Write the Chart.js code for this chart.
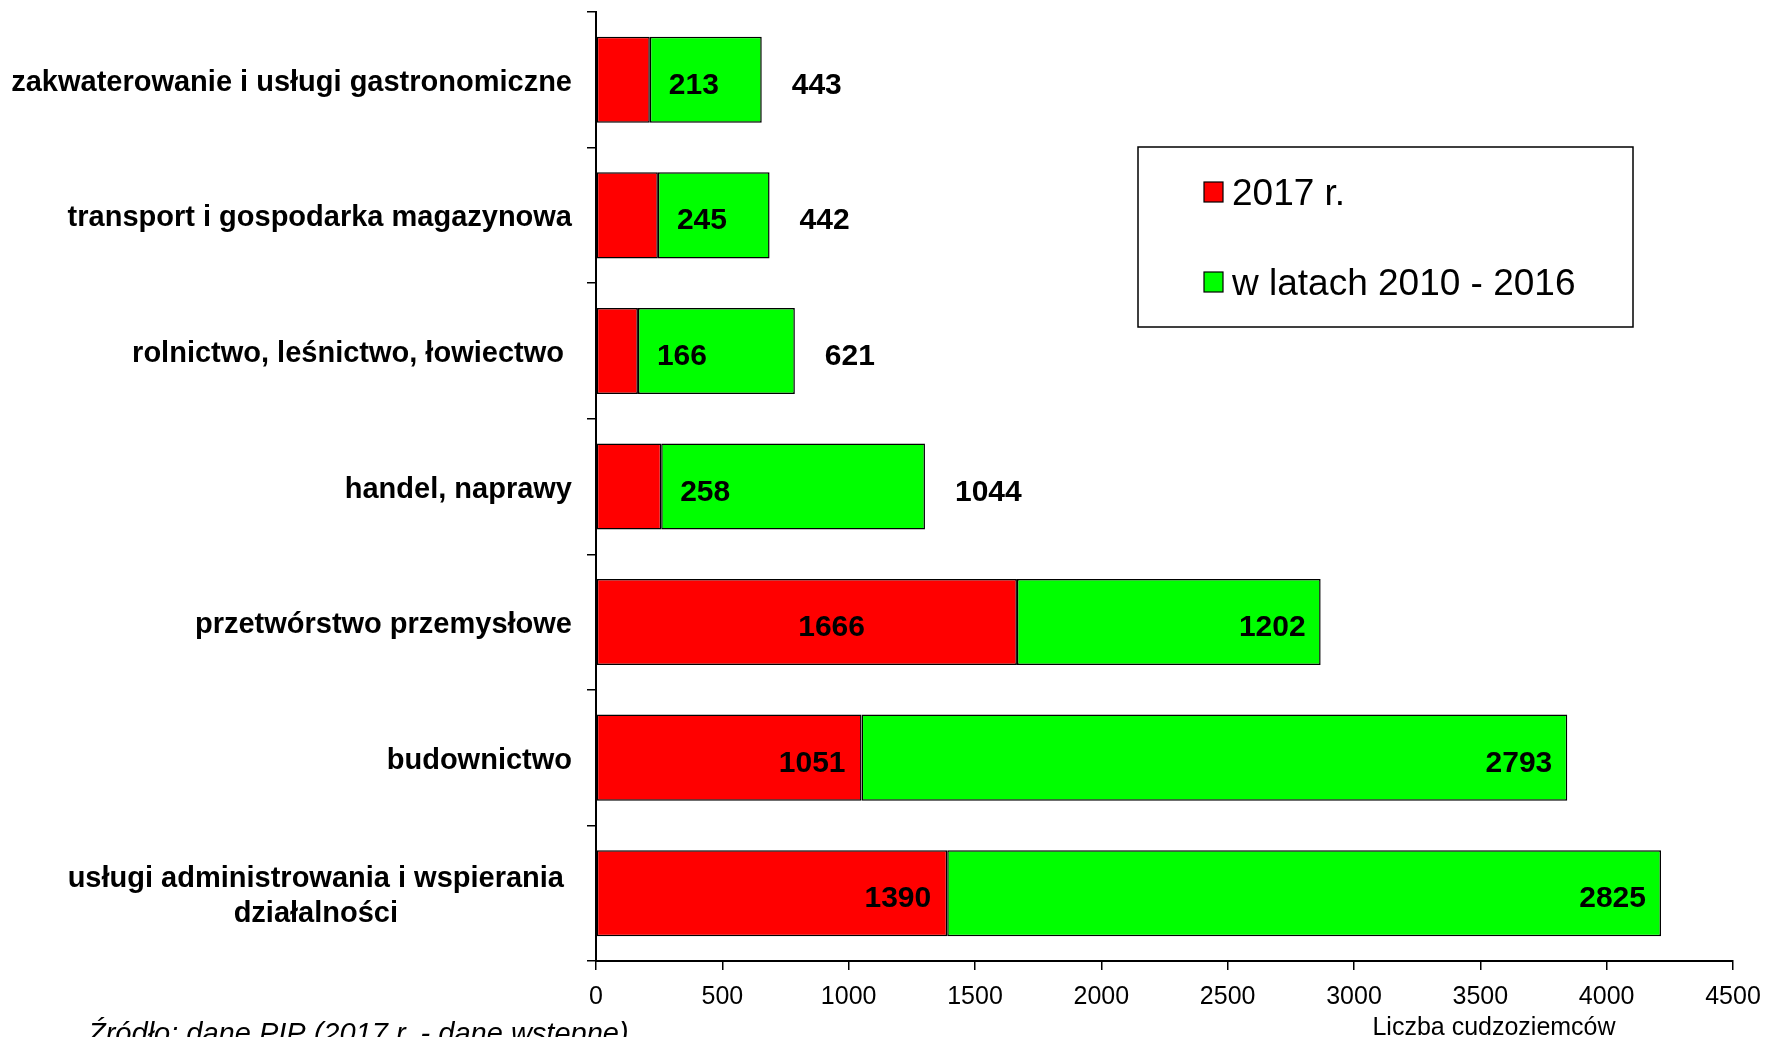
<!DOCTYPE html>
<html>
<head>
<meta charset="utf-8">
<script src="https://cdn.jsdelivr.net/npm/chart.js@4.4.0/dist/chart.umd.min.js"></script>
<style>
  body { margin: 0; background: #fff; }
  #wrap { width: 1767px; height: 1037px; position: relative; }
</style>
</head>
<body>
<div id="wrap"><canvas id="bar-chart"></canvas></div>
<script>
var categories = [
  "zakwaterowanie i usługi gastronomiczne",
  "transport i gospodarka magazynowa",
  "rolnictwo, leśnictwo, łowiectwo ",
  "handel, naprawy",
  "przetwórstwo przemysłowe",
  "budownictwo",
  ["usługi administrowania i wspierania", "działalności"]
];
var values2017 = [213, 245, 166, 258, 1666, 1051, 1390];
var values2010to2016 = [443, 442, 621, 1044, 1202, 2793, 2825];
var seriesNames = ["2017 r.", "w latach 2010 - 2016"];
var xTickValues = [0, 500, 1000, 1500, 2000, 2500, 3000, 3500, 4000, 4500];
var axisTitle = "Liczba cudzoziemców";
var sourceNote = "Źródło: dane PIP (2017 r. - dane wstępne)";

var FONT = '"Liberation Sans", Arial, sans-serif';
var redLabelNudge = { 4: -136 };   // the 1666 label sits further left in the original

// value labels on the bars
var valueLabels = {
  id: 'valueLabels',
  afterDatasetsDraw: function(chart) {
    var ctx = chart.ctx;
    var red = chart.getDatasetMeta(0).data;
    var green = chart.getDatasetMeta(1).data;
    ctx.save();
    ctx.font = 'bold 30px ' + FONT;
    ctx.fillStyle = '#000';
    ctx.textBaseline = 'alphabetic';
    for (var i = 0; i < red.length; i++) {
      var r = red[i], g = green[i];
      var y = r.y + 3 + 11;
      if (r.x - r.base < 100) {
        ctx.textAlign = 'center';
        ctx.fillText(String(values2017[i]), r.x + 44, y);
        ctx.textAlign = 'left';
        ctx.fillText(String(values2010to2016[i]), g.x + 30, y);
      } else {
        ctx.textAlign = 'right';
        ctx.fillText(String(values2017[i]), r.x - 16 + (redLabelNudge[i] || 0), y);
        ctx.fillText(String(values2010to2016[i]), g.x - 15, y);
      }
    }
    ctx.restore();
  }
};

// category names, legend box, axis title and source line
var extras = {
  id: 'extras',
  afterDraw: function(chart) {
    var ctx = chart.ctx;
    var ys = chart.scales.y;
    ctx.save();
    ctx.fillStyle = '#000';

    ctx.font = 'bold 29px ' + FONT;
    ctx.textBaseline = 'alphabetic';
    categories.forEach(function(lab, i) {
      var yc = ys.getPixelForValue(i);
      if (Array.isArray(lab)) {
        var w = 0;
        lab.forEach(function(s) { w = Math.max(w, ctx.measureText(s).width); });
        var cx = ys.right - 32 - w / 2;
        ctx.textAlign = 'center';
        lab.forEach(function(s, k) {
          ctx.fillText(s, cx, yc + 11 + (k - (lab.length - 1) / 2) * 35);
        });
      } else {
        ctx.textAlign = 'right';
        ctx.fillText(lab, ys.right - 24, yc + 11);
      }
    });

    // legend
    ctx.fillStyle = '#fff';
    ctx.fillRect(1138, 147, 495, 180);
    ctx.strokeStyle = '#000';
    ctx.lineWidth = 1.5;
    ctx.strokeRect(1138, 147, 495, 180);
    var ds = chart.data.datasets;
    var rows = [205, 295];
    ctx.font = '37px ' + FONT;
    ctx.textAlign = 'left';
    ds.forEach(function(d, k) {
      ctx.fillStyle = d.backgroundColor;
      ctx.fillRect(1204, rows[k] - 23, 19, 20);
      ctx.lineWidth = 1.2;
      ctx.strokeRect(1204, rows[k] - 23, 19, 20);
      ctx.fillStyle = '#000';
      ctx.fillText(d.label, 1232, rows[k]);
    });

    ctx.font = '25px ' + FONT;
    ctx.textAlign = 'center';
    ctx.fillText(axisTitle, 1494, 1035);

    ctx.font = 'italic 29px ' + FONT;
    ctx.textAlign = 'left';
    ctx.fillText(sourceNote, 88, 1043);
    ctx.restore();
  }
};

new Chart(document.getElementById("bar-chart"), {
  type: 'bar',
  data: {
    labels: categories,
    datasets: [{
        label: seriesNames[0],
        data: values2017,
        backgroundColor: '#ff0000',
        borderColor: '#000',
        borderWidth: 1.5,
        borderSkipped: false
      }, {
        label: seriesNames[1],
        data: values2010to2016,
        backgroundColor: '#00ff00',
        borderColor: '#000',
        borderWidth: 1.5,
        borderSkipped: false
      }
    ]
  },
  options: {
    indexAxis: 'y',
    responsive: true,
    maintainAspectRatio: false,
    devicePixelRatio: 1,
    animation: false,
    layout: { padding: { top: 12, right: 34, left: 0, bottom: 0 } },
    datasets: { bar: { categoryPercentage: 1, barPercentage: 0.635 } },
    plugins: {
      legend: { display: false },
      tooltip: { enabled: false }
    },
    scales: {
      x: {
        stacked: true,
        min: xTickValues[0],
        max: xTickValues[xTickValues.length - 1],
        afterBuildTicks: function(s) {
          s.ticks = xTickValues.map(function(v) { return { value: v }; });
        },
        afterFit: function(s) {
          s.height = 76;
          s.paddingLeft = 0;
          s.paddingRight = 0;
        },
        grid: { drawOnChartArea: false, drawTicks: true, tickLength: 9, color: '#000', lineWidth: 1.5 },
        border: { display: true, color: '#000', width: 2 },
        ticks: {
          color: '#000',
          font: { family: FONT, size: 25 },
          padding: 12,
          maxRotation: 0,
          callback: function(v) { return String(v); }
        }
      },
      y: {
        stacked: true,
        afterFit: function(s) { s.width = 596; },
        grid: { drawOnChartArea: false, drawTicks: true, tickLength: 9, color: '#000', lineWidth: 1.5, offset: true },
        border: { display: true, color: '#000', width: 2 },
        ticks: { display: false }
      }
    }
  },
  plugins: [valueLabels, extras]
});
</script>
</body>
</html>
